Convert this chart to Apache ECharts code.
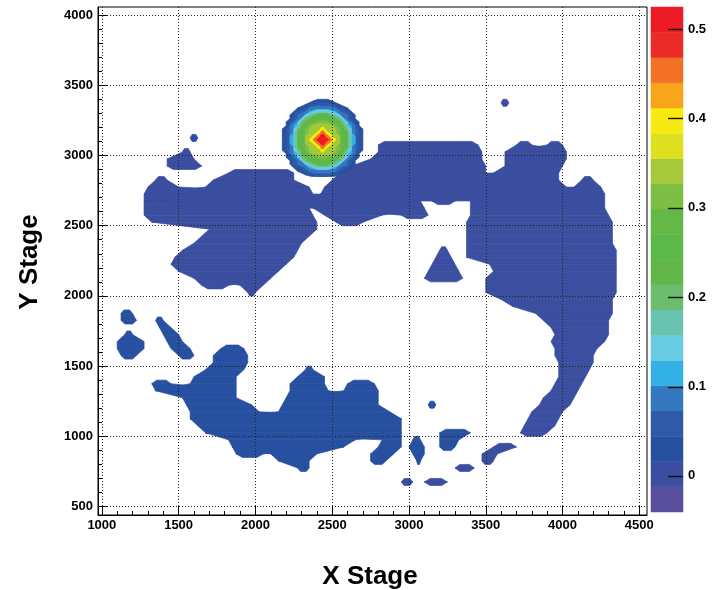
<!DOCTYPE html>
<html><head><meta charset="utf-8">
<script src="https://cdn.jsdelivr.net/npm/echarts/dist/echarts.min.js"></script>
<style>html,body{margin:0;padding:0;background:#fff}#chart{width:717px;height:590px}</style>
</head><body><div id="chart"></div>
<script>
// ---- axes / tick labels ----
const xTickLabels = [1000,1500,2000,2500,3000,3500,4000,4500];
const yTickLabels = [500,1000,1500,2000,2500,3000,3500,4000];
const zTickLabels = [0,0.1,0.2,0.3,0.4,0.5];
const xRange = [975, 4550];
const yRange = [440, 4057];
// ---- contour levels (z) and their colours ----
const contourLevels = [-0.0404,-0.0122,0.0161,0.0443,0.0726,0.1008,0.1291,0.1573,0.1856,0.2138,0.2421,0.2703,0.2986,0.3268,0.3551,0.3833,0.4116,0.4398,0.4681,0.4963,0.5246];
const bandColors = ['#5a4e9f','#3b4e9f','#2750a1','#2e5aa8','#3479bf','#33b0e6','#6acce0','#68c4b1','#6cbd6e','#62b649','#5cb848','#63b946','#7cbf43','#a5c93a','#dfe01f','#f7ea11','#f9a51c','#f37125','#ec2b26','#ed1c24'];
// ---- contour extent sampled on rows 50 units tall: [yLow, xFrom, xTo] ----
const rowHeight = 50;
const upperValue = 0.002;   // level around 0
const upperRuns = [
[3350,3600,3650],
[3050,2800,3450],[3050,3700,3800],[3050,3900,4000],
[3000,1525,1575],[3000,2800,3475],[3000,3625,4025],
[2950,1425,1600],[2950,2750,3475],[2950,3625,4025],
[2900,1425,1650],[2900,2625,3500],[2900,3625,4000],
[2850,1825,2250],[2850,2550,3500],[2850,3550,3975],
[2800,1350,1425],[2800,1725,2250],[2800,2500,3975],[2800,4125,4200],
[2750,1300,1500],[2750,1675,2350],[2750,2450,4025],[2750,4075,4250],
[2700,1275,2375],[2700,2425,4275],
[2650,1275,3075],[2650,3150,3300],[2650,3400,4275],
[2600,1275,2350],[2600,2375,3100],[2600,3400,4275],
[2550,1275,2375],[2550,2450,2825],[2550,2950,3125],[2550,3400,4300],
[2500,1325,2400],[2500,2525,2700],[2500,3375,4325],
[2450,1700,2400],[2450,3375,4325],
[2400,1650,2350],[2400,3375,4325],
[2350,1600,2300],[2350,3375,4325],
[2300,1525,2275],[2300,3200,3250],[2300,3375,4350],
[2250,1475,2250],[2250,3175,3275],[2250,3375,4350],
[2200,1450,2200],[2200,3150,3300],[2200,3525,4350],
[2150,1500,2150],[2150,3125,3325],[2150,3550,4350],
[2100,1600,2100],[2100,3100,3350],[2100,3500,4350],
[2050,1650,1825],[2050,1900,2050],[2050,3500,4350],
[2000,1950,2000],[2000,3500,4350],
[1950,3600,4325],[1900,3675,4325],[1850,3825,4325],[1800,3875,4300],[1750,3925,4300],
[1700,3950,4300],[1650,3925,4275],[1600,3950,4225],[1550,3950,4200],[1500,3975,4200],
[1450,3975,4175],[1400,3975,4150],[1350,3950,4125],[1300,3925,4100],[1250,3875,4075],
[1200,3850,4050],[1150,3800,4000],[1100,3775,3975],[1050,3750,3950],[1000,3725,3900],
[900,3550,3700],[850,3475,3575],[800,3475,3550],[750,3300,3425],[650,3100,3250],[650,2950,3025]
];
const lowerValue = 0.030;   // next level up
const lowerRuns = [
[3100,1575,1625],
[1850,1125,1200],[1800,1125,1225],
[1700,1150,1200],[1650,1100,1275],[1600,1100,1275],[1550,1125,1225],
[1800,1350,1400],[1750,1375,1450],[1700,1400,1500],[1650,1425,1525],[1600,1450,1575],[1550,1500,1600],
[1600,1775,1925],
[1550,1725,1950],
[1500,1725,1950],
[1450,1675,1925],[1450,2325,2375],
[1400,1600,1875],[1400,2275,2450],
[1350,1325,1450],[1350,1575,1875],[1350,2225,2450],[1350,2600,2775],
[1300,1350,1875],[1300,2225,2475],[1300,2575,2800],
[1250,1525,1875],[1250,2200,2800],
[1200,1550,1975],[1200,2175,2800],
[1150,1575,2025],[1150,2150,2875],
[1100,1575,2950],
[1050,1625,2950],
[1000,1675,2950],
[950,1825,2650],[950,2825,2950],
[900,1850,2575],[900,2800,2950],
[850,1875,2050],[850,2100,2400],[850,2750,2900],
[800,2150,2350],[800,2750,2850],
[750,2275,2350],
[1000,3200,3400],[950,3200,3325],[900,3200,3300],
[1200,3125,3175],
[950,3025,3075],[900,3000,3100],[850,3025,3100],[800,3050,3075]
];
// ---- the peak: 25x25-unit cells, letters a..t = contour band 0..19 ----
const peakX0 = 2150, peakYTop = 3400, peakCell = 25;
const peakMatrix = [
".........ccccc.........",
".......ccdddddcc.......",
".....ccdeeeeeeedcc.....",
"....cddefgggggfeddc....",
"...cdeeghijjjihgeedc...",
"...cdegijkkkkkjigedc...",
"..cdegijllmmmlljigedc..",
"..cefhjlmnnnnnmljhfec..",
".cdegikmnnnpnnnmkigedc.",
".cdehjlmnnprpnnmljhedc.",
".cdfhjlnnprtrpnnljhfdc.",
".cdfhjlnprtttrpnljhfdc.",
".cdfhjlnnprtrpnnljhfdc.",
".cdehjlmnnprpnnmljhedc.",
".cdegikmnnnpnnnmkigedc.",
"..cefhjlmnnnnnmljhfec..",
"..cdegijllmmmlljigedc..",
"...cdegijkkkkkjigedc...",
"...cdeeghijjjihgeedc...",
"....cddefgggggfeddc....",
".....ccdeeeeeeedcc.....",
".......ccdddddcc.......",
"......................."
];

// ---- build drawable pieces ----
function bandMid(k){ return (contourLevels[k]+contourLevels[k+1])/2; }
function bandOf(z){ for (let k=0;k<bandColors.length;k++){ if (z < contourLevels[k+1]) return k; } return bandColors.length-1; }
// piece: [bottomXa, bottomXb, topXa, topXb, yBottom, yTop, z]
function buildPieces(runs, z, h){
  const byRow = new Map();
  runs.forEach(r => { if (!byRow.has(r[0])) byRow.set(r[0], []); byRow.get(r[0]).push(r); });
  const ov = (a,b) => a[1] < b[2] && b[1] < a[2];
  const out = [];
  runs.forEach(r => {
    const y0 = r[0], yc = y0 + h/2;
    const up = (byRow.get(y0+h)||[]).filter(a => ov(a,r));
    const dn = (byRow.get(y0-h)||[]).filter(a => ov(a,r));
    up.forEach(a => out.push([r[1], r[2], a[1], a[2], yc, yc+h, z]));
    const w = r[2]-r[1], s = Math.min(0.25*w, 40);
    if (!up.length) out.push([r[1], r[2], r[1]+s, r[2]-s, yc, y0+h, z]);
    if (!dn.length) out.push([r[1]+s, r[2]-s, r[1], r[2], y0, yc, z]);
  });
  return out;
}
let pieces = buildPieces(upperRuns, upperValue, rowHeight).concat(buildPieces(lowerRuns, lowerValue, rowHeight));
// nested peak contours: region where band >= k, drawn from the outside in
const peakBandAt = (ri, ci) => { const ch = peakMatrix[ri][ci]; return (ch && ch !== '.') ? ch.charCodeAt(0) - 97 : -1; };
for (let k = 2; k < bandColors.length; k++){
  const runs = [];
  peakMatrix.forEach((row, ri) => {
    const yLow = peakYTop - (ri+1)*peakCell;
    let start = -1;
    for (let ci = 0; ci <= row.length; ci++){
      const inside = ci < row.length && peakBandAt(ri, ci) >= k;
      if (inside && start < 0) start = ci;
      if (!inside && start >= 0){ runs.push([yLow, peakX0+start*peakCell, peakX0+ci*peakCell]); start = -1; }
    }
  });
  if (runs.length) pieces = pieces.concat(buildPieces(runs, bandMid(k), peakCell));
}
const barData = [];
for (let k=0;k<bandColors.length;k++) barData.push([0,1,contourLevels[k],contourLevels[k+1],bandMid(k)]);
const barTicks = zTickLabels.map(v => [1, v]);

function renderPiece(params, api){
  const yb = api.value(4), yt = api.value(5);
  const pts = [api.coord([api.value(0), yb]), api.coord([api.value(1), yb]),
               api.coord([api.value(3), yt]), api.coord([api.value(2), yt])];
  const c = bandColors[bandOf(api.value(6))];
  return {type:'polygon', shape:{points:pts}, style:{fill:c, stroke:c, lineWidth:0.7}};
}
function renderBand(params, api){
  const a = api.coord([0, api.value(3)]), b = api.coord([1, api.value(2)]);
  const c = bandColors[bandOf(api.value(4))];
  return {type:'rect', shape:{x:a[0], y:a[1], width:b[0]-a[0], height:b[1]-a[1]},
          style:{fill:c, stroke:c, lineWidth:0.5}};
}
function renderBarTick(params, api){
  const p = api.coord([api.value(0), api.value(1)]);
  const y = Math.round(p[1]) + 0.5;
  return {type:'line', shape:{x1:p[0]-15, y1:y, x2:p[0], y2:y}, style:{stroke:'#111', lineWidth:1.4}};
}
const xMinor = [], yMinor = [];
for (let v=1000; v<=4500; v+=100) xMinor.push(v);
for (let v=500; v<=4000; v+=100) yMinor.push(v);

const FONT = 'Liberation Sans, Arial, Helvetica, sans-serif';
const lbl = {fontSize:13, fontWeight:'bold', fontFamily:FONT, color:'#000'};
const blk = {color:'#000', width:1};

const chart = echarts.init(document.getElementById('chart'), null, {renderer:'canvas'});
chart.setOption({
  animation:false,
  backgroundColor:'#fff',
  grid:[
    {left:98, top:7, width:549, height:508, show:true, borderColor:'#000', borderWidth:1, backgroundColor:'transparent'},
    {left:651, top:7, width:32, height:505, show:false}
  ],
  xAxis:[
    {gridIndex:0, type:'value', min:xRange[0], max:xRange[1], position:'bottom',
     axisLine:{show:true, onZero:false, lineStyle:blk},
     axisTick:{show:true, inside:true, length:9, customValues:xTickLabels, lineStyle:blk},
     axisLabel:Object.assign({customValues:xTickLabels, margin:4, formatter:v=>String(v)}, lbl),
     splitLine:{show:true, lineStyle:{color:'#222', type:[1,2], width:1}}},
    {gridIndex:0, type:'value', min:xRange[0], max:xRange[1], position:'bottom',
     axisLine:{show:false}, axisTick:{show:true, inside:true, length:4, customValues:xMinor, lineStyle:blk},
     axisLabel:{show:false}, splitLine:{show:false}},
    {gridIndex:1, type:'value', min:0, max:1, show:false}
  ],
  yAxis:[
    {gridIndex:0, type:'value', min:yRange[0], max:yRange[1], position:'left',
     axisLine:{show:true, onZero:false, lineStyle:blk},
     axisTick:{show:true, inside:true, length:9, customValues:yTickLabels, lineStyle:blk},
     axisLabel:Object.assign({customValues:yTickLabels, margin:5, formatter:v=>String(v)}, lbl),
     splitLine:{show:true, lineStyle:{color:'#222', type:[1,2], width:1}}},
    {gridIndex:0, type:'value', min:yRange[0], max:yRange[1], position:'left',
     axisLine:{show:false}, axisTick:{show:true, inside:true, length:4, customValues:yMinor, lineStyle:blk},
     axisLabel:{show:false}, splitLine:{show:false}},
    {gridIndex:1, type:'value', min:contourLevels[0], max:contourLevels[contourLevels.length-1], position:'right',
     axisLine:{show:false},
     axisTick:{show:false},
     axisLabel:Object.assign({customValues:zTickLabels, margin:5, formatter:v=>String(Math.round(v*10)/10)}, lbl),
     splitLine:{show:false}}
  ],
  series:[
    {type:'custom', xAxisIndex:0, yAxisIndex:0, z:-1, renderItem:renderPiece, data:pieces,
     encode:{x:[0,1,2,3], y:[4,5]}, clip:true, silent:true},
    {type:'custom', xAxisIndex:2, yAxisIndex:2, z:-1, renderItem:renderBand, data:barData,
     encode:{x:[0,1], y:[2,3]}, silent:true},
    {type:'custom', xAxisIndex:2, yAxisIndex:2, z:3, renderItem:renderBarTick, data:barTicks,
     encode:{x:0, y:1}, silent:true}
  ],
  graphic:[
    {type:'text', x:370, y:577, style:{text:'X Stage', font:'bold 26px '+FONT, fill:'#000', textAlign:'center', textVerticalAlign:'middle'}},
    {type:'text', x:30, y:262, rotation:Math.PI/2, style:{text:'Y Stage', font:'bold 26px '+FONT, fill:'#000', textAlign:'center', textVerticalAlign:'middle'}}
  ]
});
</script></body></html>
